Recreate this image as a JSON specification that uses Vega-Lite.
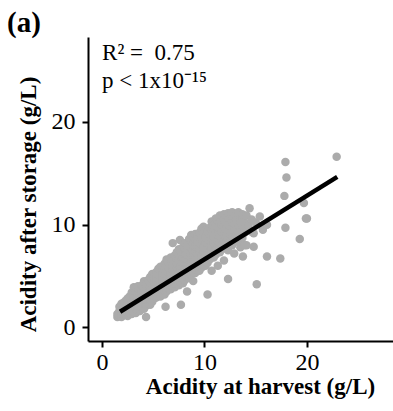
{
  "$schema": "https://vega.github.io/schema/vega-lite/v6.json",
  "width": 305,
  "height": 304,
  "autosize": "none",
  "padding": {"left": 88, "top": 37, "right": 0, "bottom": 70},
  "background": "white",
  "title": {"text": "(a)", "anchor": "start", "frame": "group", "font": "Liberation Serif", "fontWeight": "bold", "fontSize": 29, "color": "black", "dx": -81, "dy": 24, "offset": 0, "baseline": "alphabetic"},
  "config": {
    "view": {"stroke": null},
    "axis": {"grid": false, "domainColor": "black", "domainWidth": 2, "tickColor": "black", "tickWidth": 2, "tickSize": 6, "labelFont": "Liberation Serif", "labelFontSize": 24, "labelColor": "black", "titleFont": "Liberation Serif", "titleFontWeight": "bold", "titleFontSize": 23, "titleColor": "black"}
  },
  "datasets": {
    "pts": [
      {"x":1.5,"y":1.0},{"x":1.5,"y":1.3},
      {"x":1.7,"y":1.1},{"x":1.7,"y":1.6},{"x":1.7,"y":2.0},
      {"x":1.9,"y":1.0},{"x":1.9,"y":1.4},{"x":1.9,"y":1.8},{"x":1.9,"y":2.3},
      {"x":2.1,"y":1.2},{"x":2.1,"y":1.5},{"x":2.1,"y":2.0},{"x":2.1,"y":2.4},
      {"x":2.3,"y":1.3},{"x":2.3,"y":1.7},{"x":2.3,"y":2.1},{"x":2.3,"y":2.6},
      {"x":2.5,"y":1.1},{"x":2.5,"y":1.5},{"x":2.5,"y":1.9},{"x":2.5,"y":2.3},{"x":2.5,"y":2.8},
      {"x":2.7,"y":1.4},{"x":2.7,"y":1.8},{"x":2.7,"y":2.2},{"x":2.7,"y":2.5},{"x":2.7,"y":3.0},
      {"x":2.9,"y":1.3},{"x":2.9,"y":1.6},{"x":2.9,"y":2.0},{"x":2.9,"y":2.4},{"x":2.9,"y":2.9},{"x":2.9,"y":3.4},
      {"x":3.1,"y":1.5},{"x":3.1,"y":1.9},{"x":3.1,"y":2.3},{"x":3.1,"y":2.7},{"x":3.1,"y":3.1},{"x":3.1,"y":3.9},
      {"x":3.3,"y":1.4},{"x":3.3,"y":1.8},{"x":3.3,"y":2.2},{"x":3.3,"y":2.6},{"x":3.3,"y":3.0},{"x":3.3,"y":3.5},
      {"x":3.5,"y":1.7},{"x":3.5,"y":2.1},{"x":3.5,"y":2.5},{"x":3.5,"y":2.9},{"x":3.5,"y":3.3},{"x":3.5,"y":4.0},
      {"x":3.7,"y":1.6},{"x":3.7,"y":2.0},{"x":3.7,"y":2.4},{"x":3.7,"y":2.8},{"x":3.7,"y":3.2},{"x":3.7,"y":3.6},
      {"x":3.9,"y":1.9},{"x":3.9,"y":2.3},{"x":3.9,"y":2.7},{"x":3.9,"y":3.1},{"x":3.9,"y":3.5},{"x":3.9,"y":4.1},
      {"x":4.1,"y":1.8},{"x":4.1,"y":2.2},{"x":4.1,"y":2.6},{"x":4.1,"y":3.0},{"x":4.1,"y":3.4},{"x":4.1,"y":3.8},{"x":4.1,"y":4.5},
      {"x":4.3,"y":1.0},{"x":4.3,"y":2.1},{"x":4.3,"y":2.5},{"x":4.3,"y":2.9},{"x":4.3,"y":3.3},{"x":4.3,"y":3.7},{"x":4.3,"y":4.2},
      {"x":4.5,"y":2.4},{"x":4.5,"y":2.8},{"x":4.5,"y":3.2},{"x":4.5,"y":3.6},{"x":4.5,"y":4.0},{"x":4.5,"y":4.6},
      {"x":4.7,"y":2.2},{"x":4.7,"y":2.7},{"x":4.7,"y":3.1},{"x":4.7,"y":3.5},{"x":4.7,"y":3.9},{"x":4.7,"y":4.3},{"x":4.7,"y":4.9},
      {"x":4.9,"y":2.5},{"x":4.9,"y":3.0},{"x":4.9,"y":3.4},{"x":4.9,"y":3.8},{"x":4.9,"y":4.2},{"x":4.9,"y":4.7},{"x":4.9,"y":5.2},
      {"x":5.1,"y":2.8},{"x":5.1,"y":3.2},{"x":5.1,"y":3.6},{"x":5.1,"y":4.0},{"x":5.1,"y":4.4},{"x":5.1,"y":5.0},
      {"x":5.3,"y":2.9},{"x":5.3,"y":3.3},{"x":5.3,"y":3.7},{"x":5.3,"y":4.1},{"x":5.3,"y":4.5},{"x":5.3,"y":4.9},{"x":5.3,"y":5.4},
      {"x":5.5,"y":3.1},{"x":5.5,"y":3.5},{"x":5.5,"y":3.9},{"x":5.5,"y":4.3},{"x":5.5,"y":4.7},{"x":5.5,"y":5.1},{"x":5.5,"y":5.7},
      {"x":5.7,"y":3.0},{"x":5.7,"y":3.4},{"x":5.7,"y":3.8},{"x":5.7,"y":4.2},{"x":5.7,"y":4.6},{"x":5.7,"y":5.0},{"x":5.7,"y":5.5},{"x":5.7,"y":5.9},
      {"x":5.9,"y":3.3},{"x":5.9,"y":3.7},{"x":5.9,"y":4.1},{"x":5.9,"y":4.5},{"x":5.9,"y":4.9},{"x":5.9,"y":5.3},{"x":5.9,"y":5.8},
      {"x":6.1,"y":3.2},{"x":6.1,"y":3.6},{"x":6.1,"y":4.0},{"x":6.1,"y":4.4},{"x":6.1,"y":4.8},{"x":6.1,"y":5.2},{"x":6.1,"y":5.6},{"x":6.1,"y":6.2},
      {"x":6.2,"y":2.0},{"x":6.3,"y":3.5},{"x":6.3,"y":3.9},{"x":6.3,"y":4.3},{"x":6.3,"y":4.7},{"x":6.3,"y":5.1},{"x":6.3,"y":5.5},{"x":6.3,"y":6.0},{"x":6.3,"y":6.6},
      {"x":6.5,"y":3.8},{"x":6.5,"y":4.2},{"x":6.5,"y":4.6},{"x":6.5,"y":5.0},{"x":6.5,"y":5.4},{"x":6.5,"y":5.8},{"x":6.5,"y":6.3},
      {"x":6.7,"y":3.7},{"x":6.7,"y":4.1},{"x":6.7,"y":4.5},{"x":6.7,"y":4.9},{"x":6.7,"y":5.3},{"x":6.7,"y":5.7},{"x":6.7,"y":6.1},{"x":6.7,"y":6.8},
      {"x":6.9,"y":4.0},{"x":6.9,"y":4.4},{"x":6.9,"y":4.8},{"x":6.9,"y":5.2},{"x":6.9,"y":5.6},{"x":6.9,"y":6.0},{"x":6.9,"y":6.5},{"x":6.9,"y":8.2},
      {"x":7.1,"y":3.9},{"x":7.1,"y":4.3},{"x":7.1,"y":4.7},{"x":7.1,"y":5.1},{"x":7.1,"y":5.5},{"x":7.1,"y":5.9},{"x":7.1,"y":6.3},{"x":7.1,"y":7.0},
      {"x":7.3,"y":4.2},{"x":7.3,"y":4.6},{"x":7.3,"y":5.0},{"x":7.3,"y":5.4},{"x":7.3,"y":5.8},{"x":7.3,"y":6.2},{"x":7.3,"y":6.7},{"x":7.3,"y":7.3},
      {"x":7.7,"y":2.2},{"x":7.5,"y":4.1},{"x":7.5,"y":4.5},{"x":7.5,"y":4.9},{"x":7.5,"y":5.3},{"x":7.5,"y":5.7},{"x":7.5,"y":6.1},{"x":7.5,"y":6.6},{"x":7.5,"y":7.6},{"x":7.6,"y":8.5},
      {"x":7.7,"y":4.4},{"x":7.7,"y":4.8},{"x":7.7,"y":5.2},{"x":7.7,"y":5.6},{"x":7.7,"y":6.0},{"x":7.7,"y":6.4},{"x":7.7,"y":6.9},{"x":7.7,"y":7.4},
      {"x":7.9,"y":4.3},{"x":7.9,"y":4.7},{"x":7.9,"y":5.1},{"x":7.9,"y":5.5},{"x":7.9,"y":5.9},{"x":7.9,"y":6.3},{"x":7.9,"y":6.8},{"x":7.9,"y":7.8},
      {"x":8.1,"y":4.6},{"x":8.1,"y":5.0},{"x":8.1,"y":5.4},{"x":8.1,"y":5.8},{"x":8.1,"y":6.2},{"x":8.1,"y":6.6},{"x":8.1,"y":7.1},{"x":8.1,"y":7.6},{"x":8.1,"y":8.2},
      {"x":8.3,"y":3.5},{"x":8.3,"y":4.9},{"x":8.3,"y":5.3},{"x":8.3,"y":5.7},{"x":8.3,"y":6.1},{"x":8.3,"y":6.5},{"x":8.3,"y":7.0},{"x":8.3,"y":7.5},{"x":8.3,"y":8.0},
      {"x":8.5,"y":4.8},{"x":8.5,"y":5.2},{"x":8.5,"y":5.6},{"x":8.5,"y":6.0},{"x":8.5,"y":6.4},{"x":8.5,"y":6.8},{"x":8.5,"y":7.3},{"x":8.5,"y":7.9},{"x":8.5,"y":8.6},
      {"x":8.7,"y":5.1},{"x":8.7,"y":5.5},{"x":8.7,"y":5.9},{"x":8.7,"y":6.3},{"x":8.7,"y":6.7},{"x":8.7,"y":7.2},{"x":8.7,"y":7.7},{"x":8.7,"y":8.4},{"x":8.7,"y":9.0},
      {"x":8.9,"y":4.5},{"x":8.9,"y":5.4},{"x":8.9,"y":5.8},{"x":8.9,"y":6.2},{"x":8.9,"y":6.6},{"x":8.9,"y":7.0},{"x":8.9,"y":7.5},{"x":8.9,"y":8.1},{"x":8.9,"y":8.8},
      {"x":9.1,"y":5.3},{"x":9.1,"y":5.7},{"x":9.1,"y":6.1},{"x":9.1,"y":6.5},{"x":9.1,"y":6.9},{"x":9.1,"y":7.4},{"x":9.1,"y":7.9},{"x":9.1,"y":8.6},{"x":9.1,"y":9.1},
      {"x":9.3,"y":5.6},{"x":9.3,"y":6.0},{"x":9.3,"y":6.4},{"x":9.3,"y":6.8},{"x":9.3,"y":7.2},{"x":9.3,"y":7.7},{"x":9.3,"y":8.3},{"x":9.3,"y":8.9},
      {"x":9.5,"y":5.5},{"x":9.5,"y":5.9},{"x":9.5,"y":6.3},{"x":9.5,"y":6.7},{"x":9.5,"y":7.1},{"x":9.5,"y":7.6},{"x":9.5,"y":8.2},{"x":9.5,"y":9.2},
      {"x":9.7,"y":5.8},{"x":9.7,"y":6.2},{"x":9.7,"y":6.6},{"x":9.7,"y":7.0},{"x":9.7,"y":7.5},{"x":9.7,"y":8.0},{"x":9.7,"y":8.7},{"x":9.7,"y":9.6},
      {"x":9.9,"y":6.1},{"x":9.9,"y":6.5},{"x":9.9,"y":6.9},{"x":9.9,"y":7.3},{"x":9.9,"y":7.8},{"x":9.9,"y":8.4},{"x":9.9,"y":9.0},{"x":9.9,"y":9.8},
      {"x":10.1,"y":6.0},{"x":10.1,"y":6.4},{"x":10.1,"y":6.8},{"x":10.1,"y":7.2},{"x":10.1,"y":7.7},{"x":10.1,"y":8.2},{"x":10.1,"y":8.8},{"x":10.1,"y":9.4},
      {"x":10.3,"y":3.2},{"x":10.3,"y":6.3},{"x":10.3,"y":6.7},{"x":10.3,"y":7.1},{"x":10.3,"y":7.6},{"x":10.3,"y":8.1},{"x":10.3,"y":8.6},{"x":10.3,"y":9.3},
      {"x":10.5,"y":6.6},{"x":10.5,"y":7.0},{"x":10.5,"y":7.4},{"x":10.5,"y":7.9},{"x":10.5,"y":8.5},{"x":10.5,"y":9.1},{"x":10.5,"y":9.7},
      {"x":10.7,"y":5.5},{"x":10.7,"y":6.9},{"x":10.7,"y":7.3},{"x":10.7,"y":7.8},{"x":10.7,"y":8.3},{"x":10.7,"y":8.9},{"x":10.7,"y":9.5},{"x":10.7,"y":10.3},
      {"x":10.9,"y":6.8},{"x":10.9,"y":7.2},{"x":10.9,"y":7.7},{"x":10.9,"y":8.2},{"x":10.9,"y":8.8},{"x":10.9,"y":9.4},{"x":10.9,"y":10.0},
      {"x":11.1,"y":7.1},{"x":11.1,"y":7.5},{"x":11.1,"y":8.0},{"x":11.1,"y":8.6},{"x":11.1,"y":9.2},{"x":11.1,"y":9.9},{"x":11.1,"y":10.6},
      {"x":11.3,"y":6.0},{"x":11.3,"y":7.4},{"x":11.3,"y":7.9},{"x":11.3,"y":8.4},{"x":11.3,"y":9.0},{"x":11.3,"y":9.7},{"x":11.3,"y":10.4},
      {"x":11.5,"y":7.3},{"x":11.5,"y":7.8},{"x":11.5,"y":8.3},{"x":11.5,"y":8.9},{"x":11.5,"y":9.5},{"x":11.5,"y":10.2},{"x":11.5,"y":10.9},
      {"x":11.7,"y":7.6},{"x":11.7,"y":8.1},{"x":11.7,"y":8.7},{"x":11.7,"y":9.3},{"x":11.7,"y":10.0},{"x":11.7,"y":10.8},
      {"x":11.9,"y":6.5},{"x":11.9,"y":7.9},{"x":11.9,"y":8.5},{"x":11.9,"y":9.1},{"x":11.9,"y":9.8},{"x":11.9,"y":10.5},{"x":11.9,"y":11.0},
      {"x":12.1,"y":8.2},{"x":12.1,"y":8.8},{"x":12.1,"y":9.5},{"x":12.1,"y":10.2},{"x":12.1,"y":10.9},
      {"x":12.3,"y":7.5},{"x":12.3,"y":8.6},{"x":12.3,"y":9.3},{"x":12.3,"y":10.0},{"x":12.3,"y":10.7},{"x":12.3,"y":11.1},
      {"x":12.5,"y":8.4},{"x":12.5,"y":9.0},{"x":12.5,"y":9.7},{"x":12.5,"y":10.4},{"x":12.5,"y":10.9},
      {"x":12.7,"y":8.0},{"x":12.7,"y":8.8},{"x":12.7,"y":9.6},{"x":12.7,"y":10.3},{"x":12.7,"y":10.9},{"x":12.7,"y":11.2},
      {"x":12.9,"y":7.2},{"x":12.9,"y":8.6},{"x":12.9,"y":9.4},{"x":12.9,"y":10.1},{"x":12.9,"y":10.8},
      {"x":13.1,"y":8.9},{"x":13.1,"y":9.7},{"x":13.1,"y":10.5},
      {"x":13.3,"y":8.3},{"x":13.3,"y":9.2},{"x":13.3,"y":10.0},{"x":13.3,"y":10.8},{"x":13.3,"y":11.2},
      {"x":13.5,"y":7.8},{"x":13.5,"y":9.5},{"x":13.5,"y":10.3},
      {"x":13.75,"y":6.9},{"x":13.7,"y":8.7},{"x":13.7,"y":9.9},{"x":13.7,"y":10.6},{"x":13.7,"y":11.0},
      {"x":13.9,"y":8.0},{"x":13.9,"y":9.2},{"x":13.9,"y":10.2},
      {"x":14.1,"y":8.0},{"x":14.1,"y":9.7},{"x":14.1,"y":10.9},
      {"x":14.4,"y":11.6},{"x":14.3,"y":9.9},
      {"x":14.6,"y":9.3},{"x":14.6,"y":10.5},{"x":14.8,"y":7.85},{"x":14.8,"y":9.15},
      {"x":15.0,"y":10.2},{"x":15.4,"y":10.8},{"x":15.7,"y":9.5},{"x":16.1,"y":10.0},
      {"x":12.3,"y":4.7},{"x":15.1,"y":4.2},{"x":16.1,"y":6.9},{"x":17.4,"y":6.7},
      {"x":19.3,"y":8.6},{"x":17.9,"y":9.7},{"x":19.9,"y":10.6},{"x":20.0,"y":10.6},
      {"x":19.7,"y":12.1},{"x":17.8,"y":12.8},{"x":18.0,"y":14.6},{"x":17.9,"y":16.1},{"x":22.9,"y":16.6}
    ],
    "fit": [{"x":1.76,"y":1.52},{"x":22.96,"y":14.65}],
    "ann": [{"x":0,"y":26.0,"t":"R² = \u00a00.75"},{"x":0,"y":23.35,"t":"p < 1x10⁻¹⁵"}]
  },
  "layer": [
    {
      "data": {"name": "pts"},
      "mark": {"type": "circle", "size": 72, "color": "#ababab", "opacity": 1},
      "encoding": {
        "x": {"field": "x", "type": "quantitative", "scale": {"domain": [-1.37, 28.4], "nice": false, "zero": false},
              "axis": {"values": [0, 10, 20], "title": "Acidity at harvest (g/L)", "labelPadding": 3, "titleX": 172, "titleY": 52, "titleBaseline": "alphabetic", "titleAnchor": "middle"}},
        "y": {"field": "y", "type": "quantitative", "scale": {"domain": [-1.33, 28.27], "nice": false, "zero": false},
              "axis": {"values": [0, 10, 20], "title": "Acidity after storage (g/L)", "labelPadding": 7, "titleX": -53, "titleY": 167, "titleBaseline": "alphabetic", "titleAngle": -90, "titleAlign": "center"}}
      }
    },
    {
      "data": {"name": "fit"},
      "mark": {"type": "line", "color": "black", "strokeWidth": 4.5, "strokeCap": "butt"},
      "encoding": {
        "x": {"field": "x", "type": "quantitative"},
        "y": {"field": "y", "type": "quantitative"}
      }
    },
    {
      "data": {"name": "ann"},
      "mark": {"type": "text", "align": "left", "baseline": "alphabetic", "font": "Liberation Serif", "fontSize": 23, "color": "black"},
      "encoding": {
        "x": {"field": "x", "type": "quantitative"},
        "y": {"field": "y", "type": "quantitative"},
        "text": {"field": "t"}
      }
    }
  ]
}
